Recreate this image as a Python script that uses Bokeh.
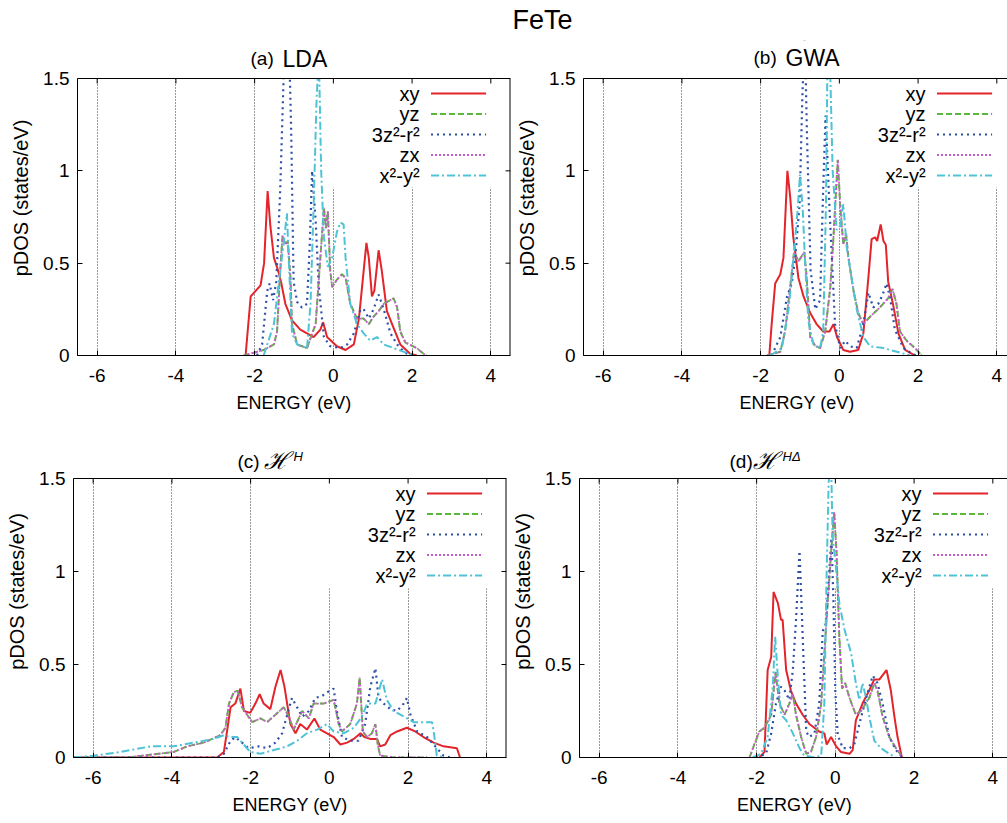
from bokeh.plotting import figure
from bokeh.layouts import column, row
from bokeh.models import Range1d, FixedTicker, CustomJSTickFormatter, Label, Span
from bokeh.embed import file_html
from bokeh.resources import INLINE
from bokeh.core.properties import value

# ---------------- data (energy in eV, pDOS in states/eV) ----------------
# (a) LDA
a_xy_e = [-2.23, -2.10, -1.85, -1.76, -1.67, -1.60, -1.51, -1.39, -1.33, -1.22, -1.05, -0.84, -0.50, -0.33, -0.26, -0.16, 0.09, 0.31, 0.52, 0.65, 0.77, 0.84, 0.90, 0.98, 1.04, 1.15, 1.23, 1.36, 1.53, 1.70, 1.95, 2.12]
a_xy_d = [0.00, 0.32, 0.38, 0.50, 0.89, 0.70, 0.53, 0.45, 0.40, 0.28, 0.19, 0.14, 0.10, 0.14, 0.18, 0.10, 0.05, 0.03, 0.06, 0.20, 0.46, 0.61, 0.53, 0.32, 0.35, 0.57, 0.46, 0.24, 0.15, 0.06, 0.01, 0.00]
a_yz_e = [-2.28, -1.77, -1.51, -1.43, -1.35, -1.29, -1.22, -1.16, -1.09, -1.05, -0.92, -0.67, -0.45, -0.33, -0.24, -0.19, -0.14, -0.08, -0.03, 0.09, 0.22, 0.31, 0.43, 0.60, 0.77, 0.90, 1.02, 1.15, 1.28, 1.53, 1.62, 1.70, 1.83, 2.12, 2.29, 2.37]
a_yz_d = [0.00, 0.03, 0.06, 0.13, 0.46, 0.65, 0.60, 0.62, 0.42, 0.17, 0.06, 0.04, 0.17, 0.53, 0.80, 0.69, 0.78, 0.46, 0.37, 0.41, 0.44, 0.42, 0.28, 0.20, 0.20, 0.17, 0.21, 0.24, 0.28, 0.31, 0.26, 0.13, 0.07, 0.04, 0.01, 0.00]
a_3z_e = [-1.94, -1.81, -1.68, -1.62, -1.53, -1.45, -1.35, -1.25, -1.15, -1.07, -1.01, -0.92, -0.80, -0.67, -0.60, -0.54, -0.45, -0.37, -0.24, -0.08, 0.18, 0.35, 0.52, 0.69, 0.77, 0.90, 1.02, 1.15, 1.28, 1.45, 1.62, 1.79, 1.95]
a_3z_d = [0.00, 0.06, 0.35, 0.39, 0.30, 0.40, 0.90, 1.60, 1.90, 1.20, 0.40, 0.29, 0.26, 0.28, 0.60, 1.00, 0.73, 0.37, 0.10, 0.05, 0.04, 0.06, 0.12, 0.25, 0.25, 0.20, 0.25, 0.33, 0.25, 0.12, 0.06, 0.02, 0.00]
a_zx_e = [-2.28, -1.77, -1.51, -1.43, -1.35, -1.29, -1.22, -1.16, -1.09, -1.05, -0.92, -0.67, -0.45, -0.33, -0.24, -0.19, -0.14, -0.08, -0.03, 0.09, 0.22, 0.31, 0.43, 0.60, 0.77, 0.90, 1.02, 1.15, 1.28, 1.53, 1.62, 1.70, 1.83, 2.12, 2.29, 2.37]
a_zx_d = [0.00, 0.03, 0.06, 0.13, 0.46, 0.65, 0.60, 0.62, 0.42, 0.17, 0.06, 0.04, 0.17, 0.53, 0.80, 0.69, 0.78, 0.46, 0.37, 0.41, 0.44, 0.42, 0.28, 0.20, 0.20, 0.17, 0.21, 0.24, 0.28, 0.31, 0.26, 0.13, 0.07, 0.04, 0.01, 0.00]
a_x2_e = [-1.77, -1.51, -1.39, -1.26, -1.18, -1.12, -1.05, -0.92, -0.67, -0.58, -0.50, -0.43, -0.37, -0.31, -0.24, -0.14, -0.03, 0.09, 0.18, 0.26, 0.31, 0.43, 0.60, 0.77, 0.94, 1.11, 1.28, 1.53, 1.79, 2.03]
a_x2_d = [0.00, 0.17, 0.39, 0.61, 0.77, 0.45, 0.12, 0.06, 0.04, 0.28, 0.82, 1.36, 1.65, 1.00, 0.64, 0.48, 0.53, 0.67, 0.72, 0.71, 0.53, 0.28, 0.17, 0.12, 0.08, 0.10, 0.06, 0.04, 0.02, 0.00]

# (b) GWA
b_xy_e = [-1.78, -1.72, -1.63, -1.50, -1.42, -1.32, -1.25, -1.17, -1.04, -0.91, -0.74, -0.58, -0.41, -0.25, -0.15, -0.06, 0.10, 0.27, 0.48, 0.61, 0.74, 0.82, 0.91, 0.96, 1.05, 1.12, 1.18, 1.24, 1.37, 1.50, 1.67, 1.92]
b_xy_d = [0.00, 0.17, 0.39, 0.44, 0.53, 1.00, 0.86, 0.64, 0.42, 0.32, 0.23, 0.17, 0.13, 0.13, 0.17, 0.10, 0.03, 0.02, 0.03, 0.12, 0.43, 0.63, 0.64, 0.62, 0.71, 0.62, 0.60, 0.40, 0.27, 0.12, 0.03, 0.00]
b_yz_e = [-1.84, -1.50, -1.38, -1.25, -1.15, -1.04, -0.89, -0.83, -0.74, -0.61, -0.49, -0.36, -0.23, -0.15, -0.04, 0.02, 0.10, 0.17, 0.23, 0.36, 0.48, 0.61, 0.78, 1.03, 1.24, 1.35, 1.45, 1.54, 1.71, 1.92, 2.09]
b_yz_d = [0.00, 0.02, 0.13, 0.37, 0.56, 0.51, 0.56, 0.42, 0.10, 0.05, 0.04, 0.13, 0.37, 0.64, 1.06, 0.82, 0.60, 0.66, 0.53, 0.35, 0.23, 0.17, 0.21, 0.26, 0.31, 0.36, 0.28, 0.13, 0.08, 0.04, 0.00]
b_3z_e = [-1.72, -1.50, -1.33, -1.21, -1.12, -1.01, -0.94, -0.88, -0.82, -0.73, -0.61, -0.49, -0.41, -0.35, -0.24, -0.11, 0.02, 0.15, 0.27, 0.44, 0.61, 0.74, 0.86, 0.99, 1.10, 1.20, 1.29, 1.41, 1.63, 1.84, 1.96]
b_3z_d = [0.00, 0.10, 0.32, 0.39, 0.53, 0.82, 1.40, 1.75, 1.17, 0.46, 0.25, 0.30, 0.91, 1.30, 0.75, 0.17, 0.04, 0.08, 0.05, 0.04, 0.17, 0.34, 0.26, 0.28, 0.33, 0.39, 0.31, 0.14, 0.04, 0.01, 0.00]
b_zx_e = [-1.84, -1.50, -1.38, -1.25, -1.15, -1.04, -0.89, -0.83, -0.74, -0.61, -0.49, -0.36, -0.23, -0.15, -0.04, 0.02, 0.10, 0.17, 0.23, 0.36, 0.48, 0.61, 0.78, 1.03, 1.24, 1.35, 1.45, 1.54, 1.71, 1.92, 2.09]
b_zx_d = [0.00, 0.02, 0.13, 0.37, 0.56, 0.51, 0.56, 0.42, 0.10, 0.05, 0.04, 0.13, 0.37, 0.64, 1.06, 0.82, 0.60, 0.66, 0.53, 0.35, 0.23, 0.17, 0.21, 0.26, 0.31, 0.36, 0.28, 0.13, 0.08, 0.04, 0.00]
b_x2_e = [-1.76, -1.46, -1.29, -1.17, -1.06, -1.00, -0.93, -0.87, -0.79, -0.66, -0.49, -0.41, -0.34, -0.30, -0.24, -0.17, -0.07, 0.02, 0.10, 0.19, 0.31, 0.44, 0.61, 0.78, 1.12, 1.46, 1.80]
b_x2_d = [0.00, 0.04, 0.25, 0.51, 0.79, 0.98, 0.79, 0.50, 0.19, 0.06, 0.04, 0.13, 0.82, 1.65, 1.60, 1.00, 0.68, 0.70, 0.82, 0.58, 0.42, 0.25, 0.10, 0.05, 0.04, 0.02, 0.00]

# (c) H^H
c_xy_e = [-6.49, -2.85, -2.68, -2.60, -2.51, -2.39, -2.26, -2.17, -2.01, -1.88, -1.77, -1.67, -1.50, -1.37, -1.24, -1.14, -0.99, -0.86, -0.74, -0.57, -0.38, -0.23, -0.06, 0.11, 0.28, 0.45, 0.62, 0.79, 0.89, 1.04, 1.21, 1.29, 1.42, 1.55, 1.72, 1.97, 2.18, 2.39, 2.65, 2.90, 3.24, 3.32]
c_xy_d = [0.00, 0.00, 0.03, 0.14, 0.27, 0.29, 0.37, 0.25, 0.24, 0.29, 0.34, 0.29, 0.26, 0.38, 0.47, 0.38, 0.18, 0.13, 0.18, 0.15, 0.21, 0.15, 0.13, 0.11, 0.07, 0.08, 0.10, 0.13, 0.11, 0.10, 0.10, 0.06, 0.07, 0.12, 0.14, 0.16, 0.14, 0.11, 0.08, 0.06, 0.05, 0.00]
c_yz_e = [-6.49, -5.14, -3.95, -3.61, -3.19, -2.77, -2.64, -2.55, -2.43, -2.33, -2.22, -2.09, -1.96, -1.75, -1.58, -1.37, -1.16, -1.03, -0.91, -0.69, -0.52, -0.40, -0.14, 0.11, 0.24, 0.32, 0.53, 0.70, 0.77, 0.85, 0.96, 1.08, 1.17, 1.23, 1.29, 1.63, 2.48]
c_yz_d = [0.00, 0.00, 0.03, 0.06, 0.08, 0.12, 0.16, 0.29, 0.35, 0.36, 0.27, 0.23, 0.19, 0.21, 0.19, 0.23, 0.27, 0.22, 0.15, 0.25, 0.21, 0.29, 0.29, 0.31, 0.18, 0.14, 0.18, 0.29, 0.43, 0.14, 0.11, 0.13, 0.18, 0.07, 0.01, 0.00, 0.00]
c_3z_e = [-6.49, -2.85, -2.68, -2.51, -2.39, -2.22, -2.05, -1.79, -1.58, -1.37, -1.20, -1.07, -0.95, -0.82, -0.69, -0.52, -0.36, -0.19, -0.06, 0.11, 0.19, 0.32, 0.53, 0.74, 0.91, 1.04, 1.17, 1.25, 1.38, 1.55, 1.72, 1.89, 1.97, 2.06, 2.23, 2.48, 2.73, 2.90, 3.07]
c_3z_d = [0.00, 0.00, 0.02, 0.09, 0.11, 0.08, 0.05, 0.06, 0.05, 0.08, 0.13, 0.23, 0.32, 0.27, 0.22, 0.25, 0.32, 0.33, 0.35, 0.37, 0.25, 0.11, 0.09, 0.09, 0.18, 0.38, 0.48, 0.32, 0.29, 0.26, 0.25, 0.29, 0.32, 0.23, 0.14, 0.11, 0.05, 0.01, 0.00]
c_zx_e = [-6.49, -5.14, -3.95, -3.61, -3.19, -2.77, -2.64, -2.55, -2.43, -2.33, -2.22, -2.09, -1.96, -1.75, -1.58, -1.37, -1.16, -1.03, -0.91, -0.69, -0.52, -0.40, -0.14, 0.11, 0.24, 0.32, 0.53, 0.70, 0.77, 0.85, 0.96, 1.08, 1.17, 1.23, 1.29, 1.63, 2.48]
c_zx_d = [0.00, 0.00, 0.03, 0.06, 0.08, 0.12, 0.16, 0.29, 0.35, 0.36, 0.27, 0.23, 0.19, 0.21, 0.19, 0.23, 0.27, 0.22, 0.15, 0.25, 0.21, 0.29, 0.29, 0.31, 0.18, 0.14, 0.18, 0.29, 0.43, 0.14, 0.11, 0.13, 0.18, 0.07, 0.01, 0.00, 0.00]
c_x2_e = [-6.49, -5.98, -5.30, -4.54, -3.95, -3.44, -2.94, -2.68, -2.51, -2.34, -2.22, -2.01, -1.75, -1.41, -1.07, -0.82, -0.57, -0.31, -0.06, 0.11, 0.36, 0.62, 0.83, 0.96, 1.17, 1.34, 1.46, 1.63, 1.89, 2.14, 2.39, 2.61, 2.65, 2.73, 2.90]
c_x2_d = [0.00, 0.01, 0.03, 0.06, 0.06, 0.08, 0.10, 0.12, 0.11, 0.11, 0.08, 0.03, 0.02, 0.04, 0.06, 0.09, 0.13, 0.15, 0.18, 0.14, 0.13, 0.16, 0.22, 0.29, 0.29, 0.42, 0.31, 0.25, 0.22, 0.19, 0.19, 0.19, 0.14, 0.01, 0.00]

# (d) H^{H Delta}
d_xy_e = [-1.93, -1.80, -1.72, -1.63, -1.57, -1.46, -1.38, -1.34, -1.25, -1.13, -1.00, -0.83, -0.66, -0.41, -0.28, -0.22, -0.11, 0.02, 0.14, 0.36, 0.44, 0.52, 0.69, 0.86, 0.99, 1.12, 1.30, 1.41, 1.50, 1.58, 1.69]
d_xy_d = [0.00, 0.03, 0.47, 0.54, 0.89, 0.83, 0.74, 0.74, 0.47, 0.36, 0.29, 0.23, 0.18, 0.14, 0.13, 0.07, 0.11, 0.06, 0.03, 0.02, 0.04, 0.20, 0.29, 0.36, 0.42, 0.42, 0.47, 0.36, 0.22, 0.11, 0.00]
d_yz_e = [-2.18, -2.06, -1.93, -1.80, -1.63, -1.52, -1.42, -1.29, -1.17, -1.08, -1.00, -0.87, -0.74, -0.62, -0.49, -0.36, -0.24, -0.11, -0.03, 0.03, 0.10, 0.17, 0.25, 0.36, 0.52, 0.65, 0.86, 0.99, 1.07, 1.20, 1.37, 1.54, 1.71]
d_yz_d = [0.00, 0.07, 0.14, 0.16, 0.23, 0.46, 0.29, 0.23, 0.29, 0.34, 0.23, 0.11, 0.02, 0.03, 0.11, 0.29, 0.69, 1.10, 1.32, 1.10, 0.65, 0.37, 0.40, 0.32, 0.23, 0.25, 0.32, 0.40, 0.36, 0.22, 0.11, 0.05, 0.00]
d_3z_e = [-2.01, -1.76, -1.63, -1.51, -1.38, -1.29, -1.17, -1.08, -1.00, -0.91, -0.83, -0.74, -0.66, -0.53, -0.41, -0.32, -0.24, -0.17, -0.10, -0.05, 0.00, 0.06, 0.19, 0.36, 0.48, 0.61, 0.78, 0.95, 1.07, 1.20, 1.37, 1.54, 1.71]
d_3z_d = [0.00, 0.02, 0.13, 0.29, 0.38, 0.36, 0.31, 0.47, 0.74, 1.11, 0.65, 0.14, 0.11, 0.13, 0.29, 0.68, 0.72, 0.95, 1.18, 0.85, 0.35, 0.12, 0.05, 0.05, 0.07, 0.18, 0.32, 0.44, 0.40, 0.29, 0.11, 0.04, 0.00]
d_zx_e = [-2.18, -2.06, -1.93, -1.80, -1.63, -1.52, -1.42, -1.29, -1.17, -1.08, -1.00, -0.87, -0.74, -0.62, -0.49, -0.36, -0.24, -0.11, -0.03, 0.03, 0.10, 0.17, 0.25, 0.36, 0.52, 0.65, 0.86, 0.99, 1.07, 1.20, 1.37, 1.54, 1.71]
d_zx_d = [0.00, 0.07, 0.14, 0.16, 0.23, 0.46, 0.29, 0.23, 0.29, 0.34, 0.23, 0.11, 0.02, 0.03, 0.11, 0.29, 0.69, 1.10, 1.32, 1.10, 0.65, 0.37, 0.40, 0.32, 0.23, 0.25, 0.32, 0.40, 0.36, 0.22, 0.11, 0.05, 0.00]
d_x2_e = [-2.10, -1.89, -1.72, -1.59, -1.53, -1.46, -1.38, -1.25, -1.08, -0.91, -0.79, -0.53, -0.36, -0.28, -0.22, -0.17, -0.11, -0.07, 0.02, 0.10, 0.23, 0.40, 0.52, 0.61, 0.69, 0.78, 0.86, 0.99, 1.16, 1.37, 1.54]
d_x2_d = [0.00, 0.02, 0.11, 0.38, 0.65, 0.43, 0.23, 0.20, 0.13, 0.05, 0.01, 0.00, 0.01, 0.29, 1.01, 1.48, 1.60, 1.19, 1.01, 0.83, 0.69, 0.56, 0.40, 0.31, 0.40, 0.32, 0.22, 0.09, 0.05, 0.02, 0.00]

orbital_labels = ["xy", "yz", "3z\u00b2-r\u00b2", "zx", "x\u00b2-y\u00b2"]
x_ticks = [-6, -4, -2, 0, 2, 4]
y_ticks = [0, 0.5, 1, 1.5]
main_title = "FeTe"

# ---------------- styling / geometry ----------------
FONT = "Liberation Sans"
STYLES = [
    dict(color="#e3242b", dash="solid", width=2.0),
    dict(color="#5cb83a", dash="6 3", width=2.0),
    dict(color="#2d4fa8", dash="2 4", width=2.2),
    dict(color="#c65ccb", dash="2 2", width=1.8),
    dict(color="#4fc3d6", dash="8 3 2 3", width=2.0),
]
PPU_X = 433 / 11.0
TICK_PX = 5
Y_MAX = 1.5


def make_panel(series, fl, fw, plot_h, head_h, bb, rb, x_end, right_border):
    """plot_h: pixel height of the 0..1.5 box; head_h: space above it (holds the panel title)."""
    ppu_y = plot_h / Y_MAX
    y_top = Y_MAX + head_h / ppu_y
    p = figure(title=None, frame_width=fw, frame_height=plot_h + head_h,
               min_border_left=fl, min_border_right=rb, min_border_top=0, min_border_bottom=bb,
               x_range=Range1d(-6.5, x_end), y_range=Range1d(0, y_top),
               output_backend="svg", toolbar_location=None, tools="")
    p.outline_line_color = None
    p.background_fill_color = "white"
    p.border_fill_color = "white"
    fmt = CustomJSTickFormatter(code="return tick.toString()")
    ax = p.xaxis[0]
    ax.ticker = FixedTicker(ticks=x_ticks)
    ax.formatter = fmt
    ax.axis_label = "ENERGY (eV)"
    ay = p.yaxis[0]
    ay.ticker = FixedTicker(ticks=y_ticks)
    ay.formatter = fmt
    ay.bounds = (0, Y_MAX)
    ay.axis_label = "pDOS (states/eV)"
    for a in (ax, ay):
        a.major_tick_in = TICK_PX
        a.major_tick_out = 0
        a.minor_tick_line_color = None
        a.axis_line_color = "black"
        a.major_tick_line_color = "black"
        a.major_label_text_font = FONT
        a.major_label_text_font_size = "19px"
        a.major_label_text_color = "black"
        a.axis_label_text_font = FONT
        a.axis_label_text_font_style = "normal"
        a.axis_label_text_color = "black"
    ax.axis_label_text_font_size = "18px"
    ay.axis_label_text_font_size = "20px"
    ax.major_label_standoff = 13
    ax.axis_label_standoff = 8
    ay.major_label_standoff = 8
    ay.axis_label_standoff = 8
    p.ygrid.visible = False
    p.xgrid.ticker = FixedTicker(ticks=x_ticks)
    p.xgrid.grid_line_color = "black"
    p.xgrid.grid_line_dash = "1 2"
    p.xgrid.grid_line_width = 1
    p.xgrid.grid_line_alpha = 0.8

    # opaque key area (hides grid lines behind the key, as in the original)
    p.quad(left=-0.25, right=6.0, bottom=0.91, top=Y_MAX, fill_color="white", line_color=None)

    for (e, d), st in zip(series, STYLES):
        p.line(e, d, line_color=st["color"], line_dash=st["dash"], line_width=st["width"])

    # blank title area above the box (curves are cut at 1.5 as in the original)
    p.quad(left=-7.0, right=6.0, bottom=Y_MAX, top=y_top + 1, fill_color="white", line_color=None)

    # frame border on top (and right), with inward mirror ticks
    p.segment(x0=[-6.5], y0=[Y_MAX], x1=[x_end], y1=[Y_MAX], line_color="black", line_width=1)
    p.segment(x0=x_ticks, y0=[Y_MAX] * len(x_ticks), x1=x_ticks,
              y1=[Y_MAX - TICK_PX / ppu_y] * len(x_ticks), line_color="black", line_width=1)
    if right_border:
        p.segment(x0=[x_end], y0=[0], x1=[x_end], y1=[Y_MAX], line_color="black", line_width=2)
        p.segment(x0=[x_end] * len(y_ticks), y0=y_ticks, x1=[x_end - TICK_PX / PPU_X] * len(y_ticks),
                  y1=y_ticks, line_color="black", line_width=1)

    # key: label right-aligned, sample line to the right
    rows_y = [Y_MAX - (15 + 20.5 * i) / ppu_y for i in range(5)]
    for lab, yy, st in zip(orbital_labels, rows_y, STYLES):
        p.text(x=[2.19], y=[yy], text=[lab], text_align="right", text_baseline="middle",
               text_font=value(FONT), text_font_size="20px", text_color="black")
        p.segment(x0=[2.48], y0=[yy], x1=[3.88], y1=[yy], line_color=st["color"],
                  line_dash=st["dash"], line_width=st["width"])
    p._ppu_y = ppu_y
    return p


def title_part(p, frame_left_page, base_page, ppu_y, px, py, text, size, font=FONT, style="normal"):
    """place a piece of a panel title; px, py = page pixel position (left edge, vertical centre)."""
    x = -6.5 + (px - frame_left_page) / PPU_X
    y = (base_page - py) / ppu_y
    p.add_layout(Label(x=x, y=y, text=text, text_font=font, text_font_size=size,
                       text_font_style=style, text_align="left", text_baseline="middle",
                       text_color="black"))


# row 1 spans page y 40..425 (box 78..355), row 2 spans 425..823 (box 478..757)
pa = make_panel([(a_xy_e, a_xy_d), (a_yz_e, a_yz_d), (a_3z_e, a_3z_d), (a_zx_e, a_zx_d), (a_x2_e, a_x2_d)],
                77, 433, 277, 38, 70, 3, 4.5, True)
pb = make_panel([(b_xy_e, b_xy_d), (b_yz_e, b_yz_d), (b_3z_e, b_3z_d), (b_zx_e, b_zx_d), (b_x2_e, b_x2_d)],
                67, 427, 277, 38, 70, 0, -6.5 + 427 / PPU_X, False)
pc = make_panel([(c_xy_e, c_xy_d), (c_yz_e, c_yz_d), (c_3z_e, c_3z_d), (c_zx_e, c_zx_d), (c_x2_e, c_x2_d)],
                73, 433, 279, 53, 66, 3, 4.5, True)
pd_ = make_panel([(d_xy_e, d_xy_d), (d_yz_e, d_yz_d), (d_3z_e, d_3z_d), (d_zx_e, d_zx_d), (d_x2_e, d_x2_d)],
                 68, 430, 279, 53, 66, 0, -6.5 + 430 / PPU_X, False)

title_part(pa, 77, 355, pa._ppu_y, 250, 58, "(a)", "19px")
title_part(pa, 77, 355, pa._ppu_y, 282, 58, "LDA", "23px")
title_part(pb, 580, 355, pb._ppu_y, 750, 57, "(b)", "19px")
title_part(pb, 580, 355, pb._ppu_y, 782, 57, "GWA", "23px")
title_part(pc, 73, 757, pc._ppu_y, 237, 461, "(c)", "19px")
title_part(pc, 73, 757, pc._ppu_y, 263, 460, "\u210b", "24px", "DejaVu Serif", "italic")
title_part(pc, 73, 757, pc._ppu_y, 293, 456, "H", "13px", FONT, "italic")
title_part(pd_, 577, 757, pd_._ppu_y, 727, 461, "(d)", "19px")
title_part(pd_, 577, 757, pd_._ppu_y, 750, 460, "\u210b", "24px", "DejaVu Serif", "italic")
title_part(pd_, 577, 757, pd_._ppu_y, 780, 456, "H\u0394", "13px", FONT, "italic")

# overall title strip
st = figure(title=None, frame_width=1007, frame_height=40, min_border=0,
            x_range=Range1d(0, 1007), y_range=Range1d(0, 40), x_axis_type=None, y_axis_type=None,
            output_backend="svg", toolbar_location=None, tools="")
st.outline_line_color = None
st.add_layout(Label(x=542, y=21, text=main_title, text_font=FONT, text_font_size="27px",
                    text_align="center", text_baseline="middle", text_color="black"))

layout = column(st, row(pa, pb), row(pc, pd_))
open("out.html", "w").write(file_html(layout, INLINE))
